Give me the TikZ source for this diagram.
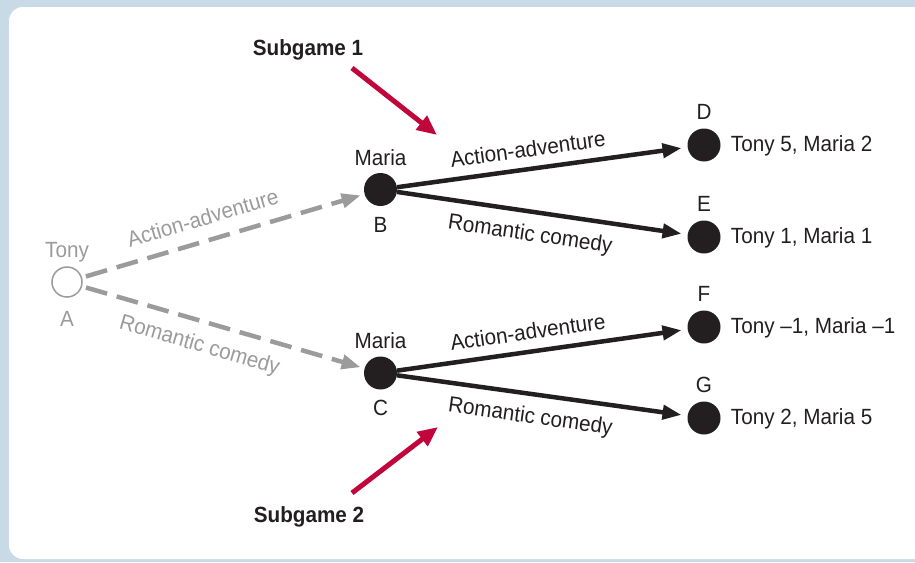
\documentclass[tikz,border=0pt]{standalone}
\usepackage{fontspec}
\setmainfont{Liberation Sans}[FakeStretch=0.94]
\usetikzlibrary{positioning}
\usetikzlibrary{arrows.meta}

\definecolor{framebg}{RGB}{200,218,229}
\definecolor{movegray}{RGB}{155,155,155}
\definecolor{inkblack}{RGB}{35,31,32}
\definecolor{subred}{RGB}{193,6,59}

\tikzset{
	txt/.style={font=\fontsize{22}{26}\selectfont, text=inkblack, inner sep=0pt, text height=16pt, text depth=4pt},
	graytxt/.style={txt, text=movegray},
	subtxt/.style={txt, font=\fontsize{22}{26}\selectfont\bfseries},
	opendot/.style={circle, draw=movegray, line width=1.5pt, fill=white, minimum size=30pt, inner sep=0pt},
	fulldot/.style={circle, fill=inkblack, minimum size=33pt, inner sep=0pt},
	move/.style={draw=inkblack, line width=4.5pt, -{Triangle[length=19pt,width=14pt]}, shorten >=6pt},
	choice/.style={draw=movegray, line width=4.5pt, dash pattern=on 22pt off 10pt, -{Triangle[length=19pt,width=14pt]}, shorten <=4pt, shorten >=4pt},
	pointer/.style={draw=subred, line width=5pt, -{Triangle[length=20pt,width=17pt]}}
}

\begin{document}
\begin{tikzpicture}[x=1pt, y=-1pt]
					\useasboundingbox (0,0) rectangle (915,562);
					% frame
					\fill[framebg] (0,0) rectangle (915,562);
					\fill[white, rounded corners=14pt] (9,7) rectangle (935,559);

					% A (Tony)
					\node[opendot] (A) at (67,282) {};
					\node[graytxt, above=5pt of A] (tonyA) {Tony};
					\node[graytxt, below=13pt of A] (nameA) {A};

					% B, C (Maria)
					\node[fulldot] (B) at (380.5,189.5) {};
					\node[txt, above=3pt of B] (mariaB) {Maria};
					\node[txt, below=10pt of B] (nameB) {B};

					\node[fulldot] (C) at (380.5,373) {};
					\node[txt, above=4pt of C] (mariaC) {Maria};
					\node[txt, below=10pt of C] (nameC) {C};

					% end nodes
					\node[fulldot] (D) at (704,145) {};
					\node[fulldot] (E) at (704,237) {};
					\node[fulldot] (F) at (704,327) {};
					\node[fulldot] (G) at (704,418) {};
					\node[txt, above=5pt of D] (nameD) {D};
					\node[txt, above=5pt of E] (nameE) {E};
					\node[txt, above=5pt of F] (nameF) {F};
					\node[txt, above=5pt of G] (nameG) {G};

					% payoffs
					\node[txt, right=10pt of D] (payD) {Tony 5, Maria 2};
					\node[txt, right=10pt of E] (payE) {Tony 1, Maria 1};
					\node[txt, right=10pt of F] (payF) {Tony --1, Maria --1};
					\node[txt, right=10pt of G] (payG) {Tony 2, Maria 5};

					% Tony's moves
					\draw[choice] (A) -- node[graytxt, sloped, above=9pt, pos=.45] (actAB) {Action-adventure} (B);
					\draw[choice] (A) -- node[graytxt, sloped, below=12pt, pos=.44] (romAC) {Romantic comedy} (C);

					% Maria's moves
					\draw[move] (B) -- node[txt, sloped, above=6pt, pos=.46] (actBD) {Action-adventure} (D);
					\draw[move] (B) -- node[txt, sloped, below=11pt, pos=.47] (romBE) {Romantic comedy} (E);
					\draw[move] (C) -- node[txt, sloped, above=6pt, pos=.46] (actCF) {Action-adventure} (F);
					\draw[move] (C) -- node[txt, sloped, below=11pt, pos=.47] (romCG) {Romantic comedy} (G);

					% subgames
					\node[subtxt] (sub1) at (308,49) {Subgame 1};
					\coordinate (sub1from) at (352,68);
					\coordinate (sub1to) at (437,135);
					\draw[pointer] (sub1from) -- (sub1to);

					\node[subtxt] (sub2) at (309,516) {Subgame 2};
					\coordinate (sub2from) at (352,493);
					\coordinate (sub2to) at (438,427);
					\draw[pointer] (sub2from) -- (sub2to);
				\end{tikzpicture}
\end{document}
